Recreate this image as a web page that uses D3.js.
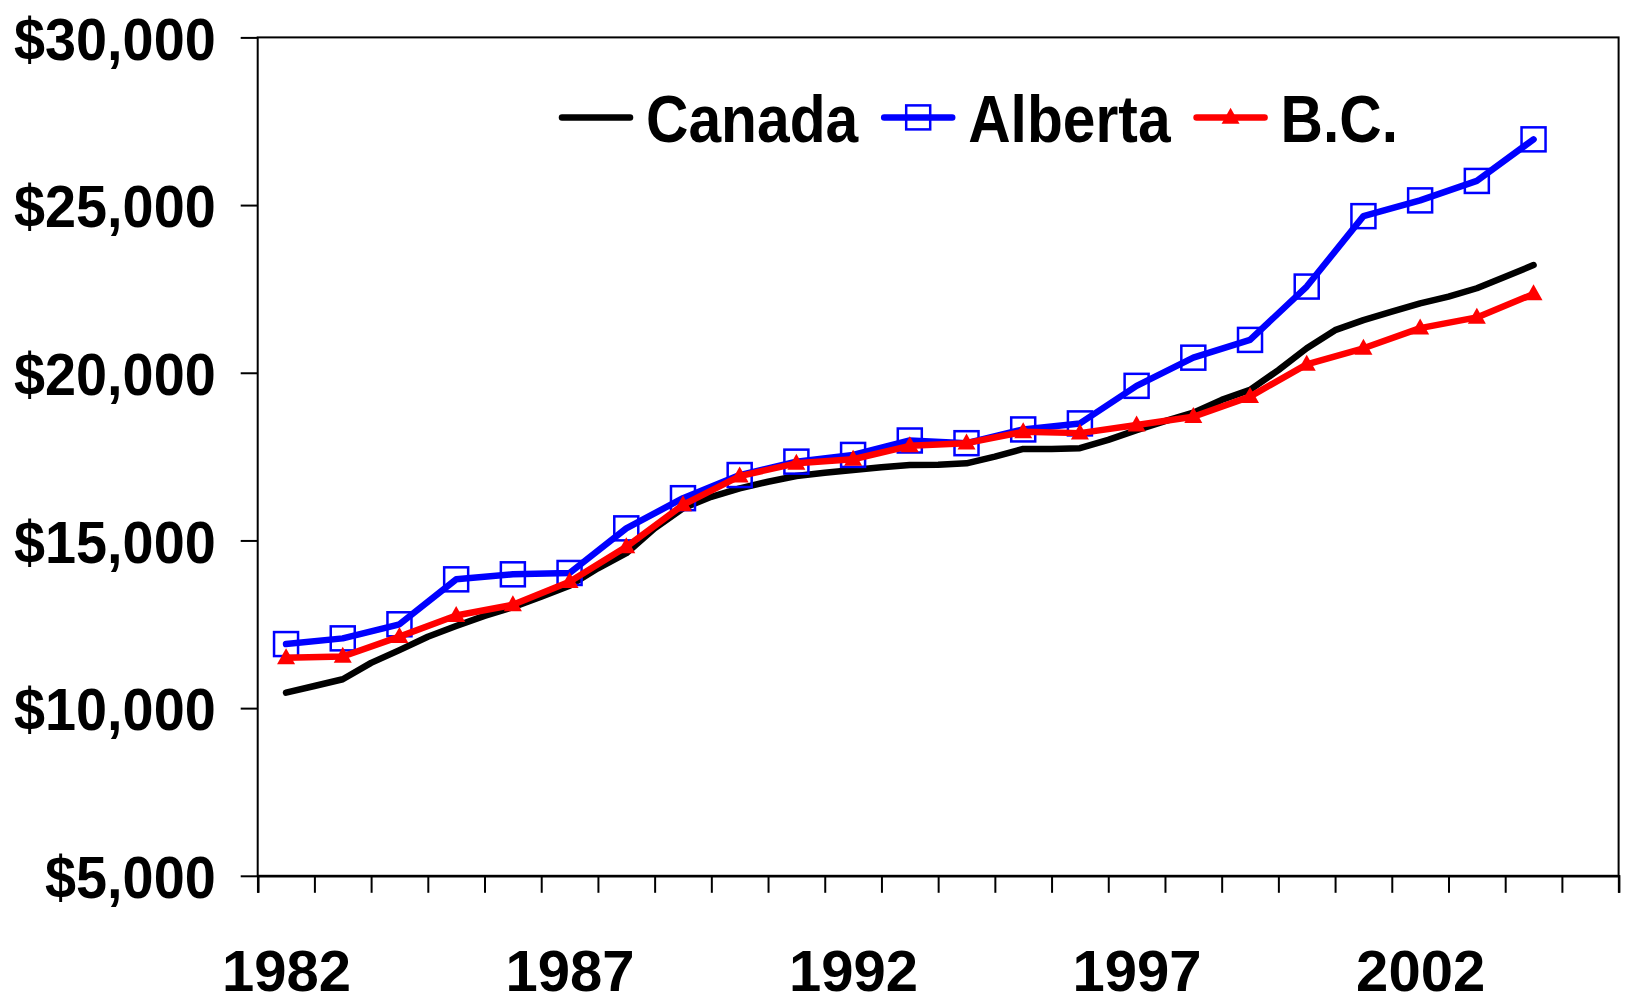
<!DOCTYPE html>
<html><head><meta charset="utf-8">
<script src="https://cdn.jsdelivr.net/npm/d3@7"></script>
<style>html,body{margin:0;padding:0;background:#fff;} svg{display:block;}</style>
</head><body>
<script>
// ---- data ----
const years = [1982,1983,1984,1985,1986,1987,1988,1989,1990,1991,1992,1993,1994,1995,1996,1997,1998,1999,2000,2001,2002,2003,2004];
const albertaValues = [11910,12080,12500,13840,13990,14030,15360,16260,16950,17350,17550,17980,17900,18310,18490,19610,20450,20980,22570,24670,25140,25720,26960];
const bcValues = [11500,11540,12130,12760,13080,13770,14810,16060,16920,17300,17420,17820,17900,18240,18200,18440,18690,19290,20250,20730,21330,21650,22350];
const canadaPeriods = [1982,1982.5,1983,1983.5,1984,1984.5,1985,1985.5,1986,1986.5,1987,1987.5,1988,1988.5,1989,1989.5,1990,1990.5,1991,1991.5,1992,1992.5,1993,1993.5,1994,1994.5,1995,1995.5,1996,1996.5,1997,1997.5,1998,1998.5,1999,1999.5,2000,2000.5,2001,2001.5,2002,2002.5,2003,2003.5,2004];
const canadaValues = [10460,10660,10860,11350,11730,12130,12450,12750,13010,13320,13650,14170,14620,15360,15960,16300,16550,16750,16920,17020,17100,17180,17250,17260,17300,17500,17730,17730,17750,18000,18290,18560,18810,19190,19490,20080,20730,21270,21570,21820,22070,22270,22520,22860,23210];
const yTickValues = [5000,10000,15000,20000,25000,30000];
const xCategoryEdges = [1981.5,1982.5,1983.5,1984.5,1985.5,1986.5,1987.5,1988.5,1989.5,1990.5,1991.5,1992.5,1993.5,1994.5,1995.5,1996.5,1997.5,1998.5,1999.5,2000.5,2001.5,2002.5,2003.5,2004.5,2005.5];
const xTickLabels = [1982,1987,1992,1997,2002];
const seriesNames = ["Canada","Alberta","B.C."];
const seriesColors = ["#000000","#0000ff","#ff0000"];

// ---- layout ----
const W = 1629, H = 1004;
const L = 257.7, R = 1618.6, T = 37.4, B = 875.8;
const FONT = "'Liberation Sans', Arial, Helvetica, sans-serif";

const svg = d3.select("body").append("svg").attr("width", W).attr("height", H)
  .style("font-family", FONT);
svg.append("rect").attr("width", W).attr("height", H).attr("fill", "#fff");

const x = d3.scaleLinear().domain([1981.5, 2005.5]).range([L, R]);
const y = d3.scaleLinear().domain([5000, 30000]).range([B, T]);

function condense(sel, ratio) {
  sel.each(function () {
    const w = this.getComputedTextLength();
    d3.select(this).attr("textLength", w * ratio).attr("lengthAdjust", "spacingAndGlyphs");
  });
}

// plot frame
svg.append("rect").attr("x", L).attr("y", T).attr("width", R - L).attr("height", B - T)
  .attr("fill", "none").attr("stroke", "#000").attr("stroke-width", 2);

// y axis
const yAxis = svg.append("g").attr("transform", `translate(${L},0)`)
  .call(d3.axisLeft(y).tickValues(yTickValues).tickSize(17).tickPadding(25)
    .tickFormat(d => "$" + d3.format(",")(d)));
yAxis.select(".domain").remove();
yAxis.selectAll(".tick line").attr("stroke", "#000").attr("stroke-width", 2);
yAxis.selectAll(".tick text").attr("font-size", 60).attr("font-weight", "bold")
  .attr("font-family", FONT).attr("fill", "#000").attr("dy", "0.36em");
condense(yAxis.selectAll(".tick text"), 0.93);

// x axis ticks (category boundaries)
const xAxis = svg.append("g").attr("transform", `translate(0,${B})`)
  .call(d3.axisBottom(x).tickValues(xCategoryEdges).tickSize(17).tickFormat(""));
xAxis.select(".domain").attr("stroke", "#000").attr("stroke-width", 2.5);
xAxis.selectAll(".tick line").attr("stroke", "#000").attr("stroke-width", 2);

// x labels
const xLab = svg.append("g").attr("transform", `translate(0,${B})`)
  .call(d3.axisBottom(x).tickValues(xTickLabels).tickSize(0).tickPadding(0)
    .tickFormat(d3.format("d")));
xLab.select(".domain").remove();
xLab.selectAll(".tick text").attr("font-size", 58).attr("font-weight", "bold")
  .attr("font-family", FONT).attr("fill", "#000").attr("dy", 0).attr("y", 115);

// ---- series ----
const line = d3.line().x(d => x(d[0])).y(d => y(d[1]));
const canada = canadaPeriods.map((p, i) => [p, canadaValues[i]]);
const alberta = years.map((p, i) => [p, albertaValues[i]]);
const bc = years.map((p, i) => [p, bcValues[i]]);

function drawLine(data, color) {
  svg.append("path").datum(data).attr("d", line).attr("fill", "none")
    .attr("stroke", color).attr("stroke-width", 6.5)
    .attr("stroke-linejoin", "round").attr("stroke-linecap", "round");
}
const sq = 24, triW = 18, triH = 16;
function triPath(cx, cy) {
  return `M${cx},${cy - triH * 0.6}L${cx + triW / 2},${cy + triH * 0.4}L${cx - triW / 2},${cy + triH * 0.4}Z`;
}
function squares(g, data, color) {
  g.selectAll(null).data(data).enter().append("rect")
    .attr("x", d => x(d[0]) - sq / 2).attr("y", d => y(d[1]) - sq / 2)
    .attr("width", sq).attr("height", sq)
    .attr("fill", "none").attr("stroke", color).attr("stroke-width", 2.5);
}
function triangles(g, data, color) {
  g.selectAll(null).data(data).enter().append("path")
    .attr("d", d => triPath(x(d[0]), y(d[1])))
    .attr("fill", color);
}

drawLine(canada, seriesColors[0]);
drawLine(alberta, seriesColors[1]);
squares(svg.append("g"), alberta, seriesColors[1]);
drawLine(bc, seriesColors[2]);
triangles(svg.append("g"), bc, seriesColors[2]);

// ---- legend ----
const leg = svg.append("g");
let lx = 562;
const ly = 117.4, lineLen = 68;
seriesNames.forEach((name, i) => {
  const c = seriesColors[i];
  leg.append("line").attr("x1", lx).attr("x2", lx + lineLen).attr("y1", ly).attr("y2", ly)
    .attr("stroke", c).attr("stroke-width", 6.5).attr("stroke-linecap", "round");
  const mx = lx + lineLen / 2;
  if (i === 1) {
    leg.append("rect").attr("x", mx - sq / 2).attr("y", ly - sq / 2).attr("width", sq).attr("height", sq)
      .attr("fill", "none").attr("stroke", c).attr("stroke-width", 2.5);
  } else if (i === 2) {
    leg.append("path").attr("d", triPath(mx, ly)).attr("fill", c);
  }
  const t = leg.append("text").attr("x", lx + lineLen + 16).attr("y", 142)
    .attr("font-size", 66).attr("font-weight", "bold").attr("fill", "#000").text(name);
  const w = t.node().getComputedTextLength() * 0.89;
  t.attr("textLength", w).attr("lengthAdjust", "spacingAndGlyphs");
  lx = lx + lineLen + 16 + w + 26;
});
</script>
</body></html>
